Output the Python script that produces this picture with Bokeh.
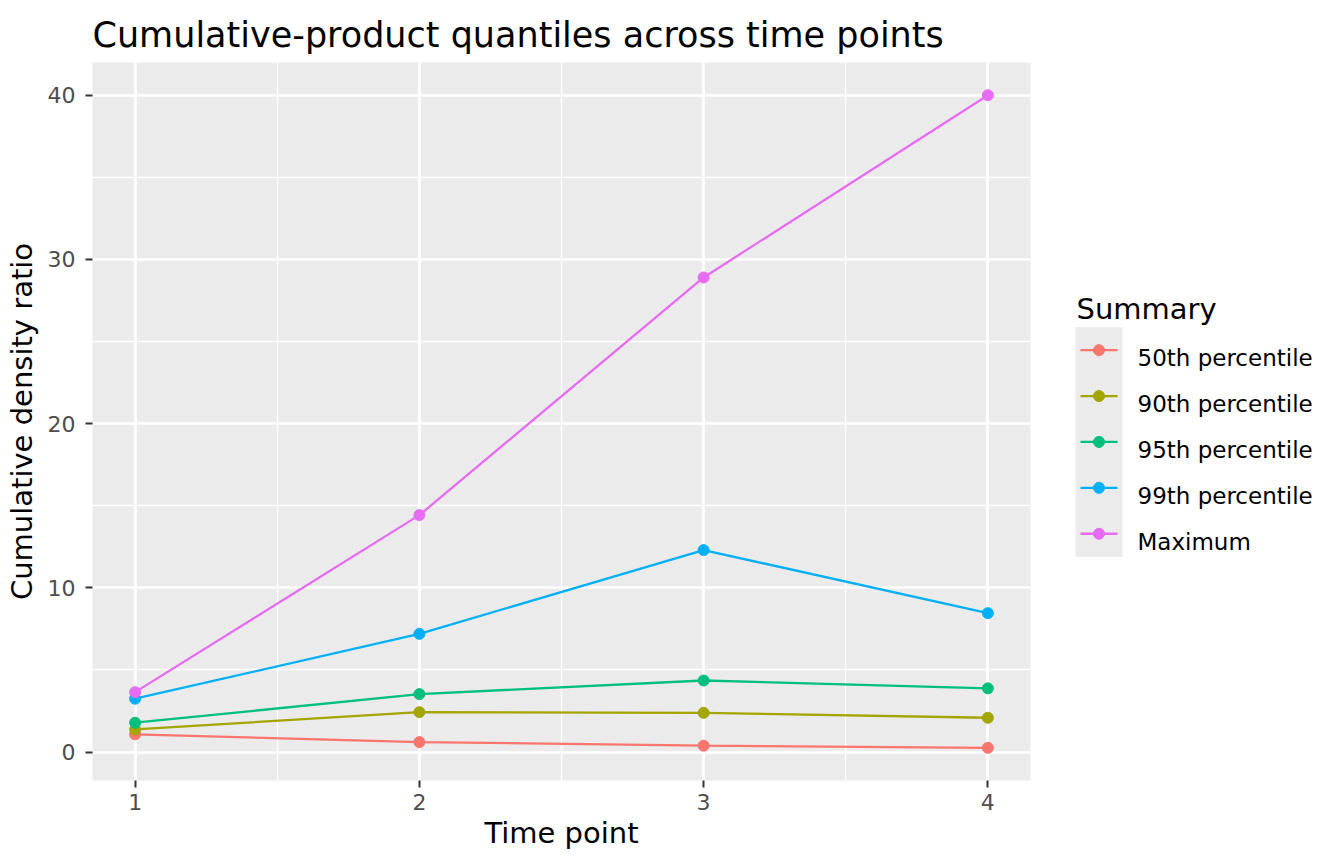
from bokeh.plotting import figure
from bokeh.models import FixedTicker, Range1d
from bokeh.layouts import row
from bokeh.core.properties import value
from bokeh.embed import file_html
from bokeh.resources import INLINE

time_points = [1, 2, 3, 4]
series_names = ["50th percentile", "90th percentile", "95th percentile", "99th percentile", "Maximum"]
p50 = [1.08, 0.61, 0.39, 0.26]
p90 = [1.38, 2.43, 2.39, 2.09]
p95 = [1.79, 3.53, 4.36, 3.88]
p99 = [3.25, 7.20, 12.30, 8.46]
pmax = [3.65, 14.43, 28.90, 40.00]
colors = ["#F8766D", "#A3A500", "#00BF7D", "#00B0F6", "#E76BF3"]
x_ticks = [1, 2, 3, 4]
x_minor = [1.5, 2.5, 3.5]
y_ticks = [0, 10, 20, 30, 40]
y_minor = [5, 15, 25, 35]

FONT = "DejaVu Sans"
MAIN_W, LEG_W, H = 1040, 288, 848
TOP, BOTTOM, FRAME_H = 62, 68, 718

p = figure(width=MAIN_W, height=H, output_backend="svg", toolbar_location=None,
           frame_width=938, frame_height=FRAME_H,
           min_border_left=92, min_border_top=TOP, min_border_right=10, min_border_bottom=BOTTOM,
           x_range=Range1d(0.85, 4.15), y_range=Range1d(-1.73, 41.99))
p.background_fill_color = "#EBEBEB"
p.border_fill_color = "white"
p.outline_line_color = None

p.title.text = "Cumulative-product quantiles across time points"
p.title.text_font = FONT
p.title.text_font_size = "35px"
p.title.text_font_style = "normal"
p.title.text_color = "black"
p.title.offset = 0
p.title.standoff = 16

p.xaxis.ticker = FixedTicker(ticks=x_ticks, minor_ticks=x_minor)
p.yaxis.ticker = FixedTicker(ticks=y_ticks, minor_ticks=y_minor)
for ax in (p.xaxis, p.yaxis):
    ax.axis_line_color = None
    ax.major_tick_line_color = "#333333"
    ax.major_tick_line_width = 2
    ax.major_tick_out = 7
    ax.major_tick_in = 0
    ax.minor_tick_line_color = None
    ax.major_label_text_font = FONT
    ax.major_label_text_font_size = "22px"
    ax.major_label_text_color = "#4D4D4D"
    ax.axis_label_text_font = FONT
    ax.axis_label_text_font_size = "29px"
    ax.axis_label_text_font_style = "normal"
    ax.axis_label_text_color = "black"
p.xaxis.axis_label = "Time point"
p.yaxis.axis_label = "Cumulative density ratio"
p.xaxis.major_label_standoff = 6
p.yaxis.major_label_standoff = 10
p.xaxis.axis_label_standoff = 3
p.yaxis.axis_label_standoff = 6

for g in (p.xgrid, p.ygrid):
    g.grid_line_color = "white"
    g.grid_line_width = 2.7
    g.minor_grid_line_color = "white"
    g.minor_grid_line_width = 1.3

all_series = [p50, p90, p95, p99, pmax]
for name, vals, c in zip(series_names, all_series, colors):
    p.line(time_points, vals, line_color=c, line_width=2.3)
    p.scatter(time_points, vals, size=11, fill_color=c, line_color=c)

# ---- ggplot-style legend drawn in a side panel (pixel coordinates) ----
lg = figure(width=LEG_W, height=H, output_backend="svg", toolbar_location=None,
            frame_height=FRAME_H, frame_width=LEG_W,
            min_border_left=0, min_border_right=0, min_border_top=TOP, min_border_bottom=BOTTOM,
            x_range=Range1d(MAIN_W, MAIN_W + LEG_W), y_range=Range1d(TOP + FRAME_H, TOP),
            x_axis_type=None, y_axis_type=None)
lg.grid.visible = False
lg.outline_line_color = None
lg.background_fill_color = "white"
lg.border_fill_color = "white"

key_left, key_w, key_top, key_h = 1075, 47, 326.7, 45.9
n = len(series_names)
lg.quad(left=[key_left], right=[key_left + key_w], top=[key_top],
        bottom=[key_top + n * key_h], fill_color="#EBEBEB", line_color=None)
centers = [key_top + key_h * (i + 0.5) for i in range(n)]
lg.segment(x0=[key_left + 5] * n, x1=[key_left + key_w - 5] * n, y0=centers, y1=centers,
           line_color=colors, line_width=2.3)
lg.scatter(x=[key_left + key_w / 2] * n, y=centers, size=11, fill_color=colors, line_color=colors)
lg.text(x=[1137] * n, y=[cy + 8 for cy in centers], text=series_names,
        text_font=value(FONT), text_font_size=value("23px"), text_color="black",
        text_baseline="alphabetic", text_align="left")
lg.text(x=[1076], y=[308.5], text=["Summary"], text_font=value(FONT),
        text_font_size=value("29px"), text_color="black",
        text_baseline="alphabetic", text_align="left")

layout = row(p, lg, spacing=0)
open("out.html", "w").write(file_html(layout, INLINE))
